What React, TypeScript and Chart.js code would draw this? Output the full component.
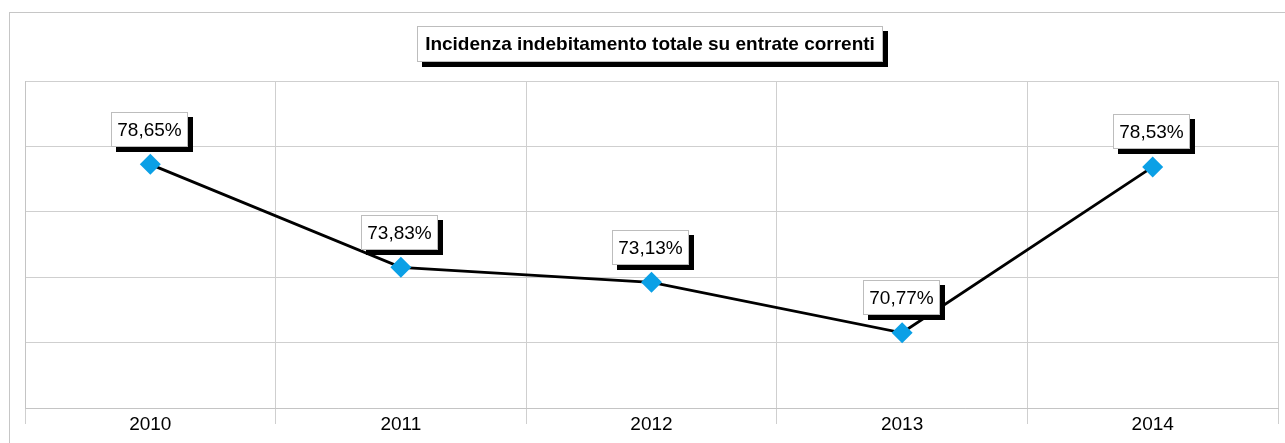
import React, { useEffect, useRef } from "react";
import { Chart, registerables } from "chart.js";

Chart.register(...registerables);

const chartTitle = "Incidenza indebitamento totale su entrate correnti";
const categories = ["2010", "2011", "2012", "2013", "2014"];
const values = [78.65, 73.83, 73.13, 70.77, 78.53];
const yMin = 67.25;
const yMax = 82.55;
const gridIntervals = 5;

const FONT = "'Liberation Sans', Arial, sans-serif";

const fmt = (v: number) => v.toFixed(2).replace(".", ",") + "%";

const framePlugin = {
  id: "frame",
  beforeDraw(chart: any) {
    const ctx = chart.ctx;
    ctx.save();
    ctx.fillStyle = "#ffffff";
    ctx.fillRect(0, 0, chart.width, chart.height);
    ctx.strokeStyle = "#c6c6c6";
    ctx.lineWidth = 1;
    ctx.strokeRect(9.5, 12.5, chart.width + 20, chart.height + 20);
    ctx.restore();
  },
};

function shadowBox(ctx: CanvasRenderingContext2D, x: number, y: number, w: number, h: number) {
  ctx.fillStyle = "#000000";
  ctx.fillRect(x + 5, y + 5, w, h);
  ctx.fillStyle = "#ffffff";
  ctx.fillRect(x, y, w, h);
  ctx.strokeStyle = "#bdbdbd";
  ctx.lineWidth = 1;
  ctx.strokeRect(Math.round(x) + 0.5, Math.round(y) + 0.5, Math.round(w) - 1, Math.round(h) - 1);
}

const labelsPlugin = {
  id: "boxLabels",
  afterDatasetsDraw(chart: any) {
    const ctx = chart.ctx as CanvasRenderingContext2D;
    const meta = chart.getDatasetMeta(0);
    ctx.save();
    ctx.font = `19px ${FONT}`;
    meta.data.forEach((pt: any, i: number) => {
      const text = fmt(values[i]);
      const tw = ctx.measureText(text).width;
      const w = Math.round(tw + 13);
      const h = 35;
      const cx = pt.x - 1;
      const cy = pt.y - 35;
      const bx = Math.round(cx - w / 2);
      const by = Math.round(cy - h / 2);
      shadowBox(ctx, bx, by, w, h);
      ctx.fillStyle = "#000000";
      ctx.textAlign = "center";
      ctx.textBaseline = "middle";
      ctx.fillText(text, bx + w / 2, by + h / 2 + 1);
    });
    // title
    ctx.font = `bold 19px ${FONT}`;
    const tw = ctx.measureText(chartTitle).width;
    const w = Math.round(tw + 16);
    const h = 36;
    const cx = (chart.chartArea.left + chart.chartArea.right) / 2 - 2;
    const bx = Math.round(cx - w / 2);
    const by = 26;
    shadowBox(ctx, bx, by, w, h);
    ctx.fillStyle = "#000000";
    ctx.textAlign = "center";
    ctx.textBaseline = "middle";
    ctx.fillText(chartTitle, bx + w / 2, by + h / 2 + 1);
    ctx.restore();
  },
};

export default function App() {
  const ref = useRef<HTMLCanvasElement | null>(null);

  useEffect(() => {
    document.body.style.margin = "0";
    const canvas = ref.current;
    if (!canvas) return;
    const chart = new Chart(canvas, {
      type: "line",
      data: {
        labels: categories,
        datasets: [
          {
            data: values,
            borderColor: "#000000",
            borderWidth: 2.8,
            pointStyle: "rectRot",
            pointRadius: 10.5,
            pointBackgroundColor: "#0ba0e6",
            pointBorderColor: "#0ba0e6",
            pointBorderWidth: 0,
            tension: 0,
            clip: false,
          },
        ],
      },
      options: {
        responsive: false,
        animation: false,
        devicePixelRatio: 1,
        layout: { autoPadding: false, padding: { left: 25, top: 81, right: 7, bottom: 0 } },
        plugins: {
          legend: { display: false },
          title: { display: false },
          tooltip: { enabled: false },
        },
        scales: {
          x: {
            type: "category",
            offset: true,
            grid: {
              offset: true,
              color: "#cfcfcf",
              lineWidth: 1,
              tickLength: 16,
              drawTicks: true,
            },
            border: { display: true, color: "#c4c4c4" },
            ticks: {
              color: "#000000",
              font: { family: FONT, size: 19 },
              padding: -11,
              maxRotation: 0,
              autoSkip: false,
            },
            afterFit(scale: any) {
              scale.height = 35;
            },
          },
          y: {
            min: yMin,
            max: yMax,
            grid: { color: "#cfcfcf", lineWidth: 1, drawTicks: false },
            border: { display: true, color: "#c4c4c4" },
            ticks: { display: false },
            afterBuildTicks(scale: any) {
              const t = [];
              for (let i = 0; i <= gridIntervals; i++) {
                t.push({ value: yMin + ((yMax - yMin) * i) / gridIntervals });
              }
              scale.ticks = t;
            },
            afterFit(scale: any) {
              scale.width = 0;
            },
          },
        },
      },
      plugins: [framePlugin, labelsPlugin],
    } as any);
    return () => chart.destroy();
  }, []);

  return (
    <div style={{ position: "fixed", left: 0, top: 0, width: 1285, height: 443 }}>
      <canvas ref={ref} width={1285} height={443} />
    </div>
  );
}
